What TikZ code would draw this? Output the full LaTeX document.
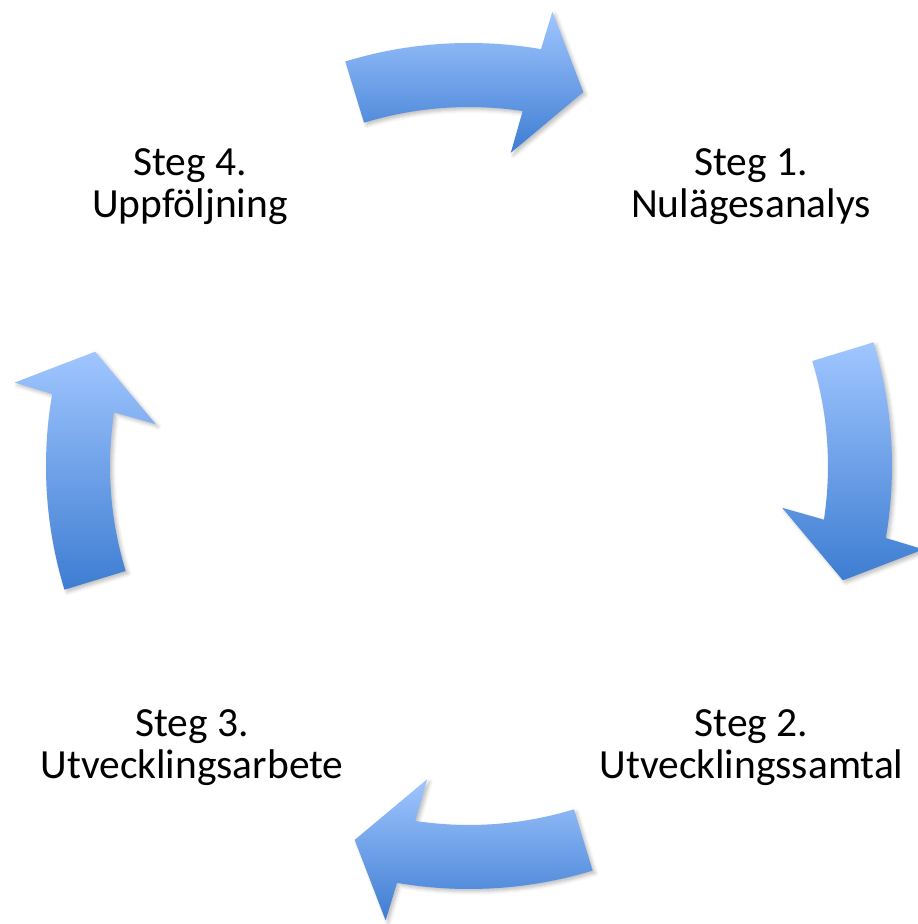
\documentclass[tikz,border=0pt]{standalone}
\usepackage{fontspec}
\setmainfont{Carlito}
\usetikzlibrary{shadows.blur}
\definecolor{arrowtop}{RGB}{160,198,255}
\definecolor{arrowbottom}{RGB}{62,125,210}
\begin{document}
\begin{tikzpicture}[x=0.02cm,y=0.02cm,
  cyclearrow/.style={top color=arrowtop,bottom color=arrowbottom,
    blur shadow={shadow xshift=1.5pt,shadow yshift=-1.5pt,shadow opacity=25,shadow blur radius=2pt}},
  steplabel/.style={align=center,anchor=base,inner sep=0pt,
    font=\fontsize{23.6}{23.6}\selectfont}]
\useasboundingbox (-469,-458) rectangle (449,466);
\foreach \a in {90,0,-90,180}
  \path[cyclearrow] (\a+17:423) arc[start angle=\a+17,end angle=\a-9.8,radius=423]
    -- (\a-10.4:462) -- (\a-17:391) -- (\a-7.6:316) -- (\a-8.6:359)
    arc[start angle=\a-8.6,end angle=\a+17,radius=359] -- cycle;
\node[steplabel] (steg1) at (282,249) {Steg 1.\\Nulägesanalys};
\node[steplabel] (steg2) at (282.5,-312) {Steg 2.\\Utvecklingssamtal};
\node[steplabel] (steg3) at (-277,-312) {Steg 3.\\Utvecklingsarbete};
\node[steplabel] (steg4) at (-279,249) {Steg 4.\\Uppföljning};
\end{tikzpicture}
\end{document}
